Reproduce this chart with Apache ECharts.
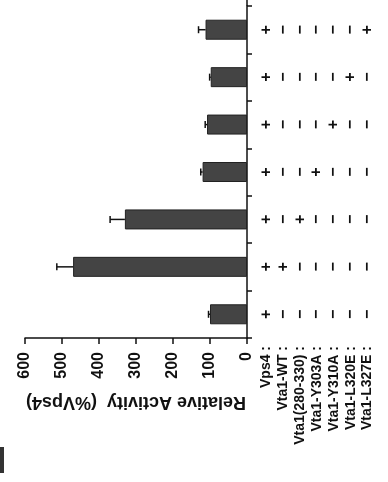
<!DOCTYPE html>
<html>
<head>
<meta charset="utf-8">
<script src="https://cdn.jsdelivr.net/npm/echarts@6/dist/echarts.min.js"></script>
<style>
html,body{margin:0;padding:0;background:#fff;}
#c{width:388px;height:482px;}
</style>
</head>
<body>
<div id="c"></div>
<script>
// Conditions (bottom to top in the picture)
const conditions = ['Vps4', 'Vps4+Vta1-WT', 'Vps4+Vta1(280-330)', 'Vps4+Vta1-Y303A', 'Vps4+Vta1-Y310A', 'Vps4+Vta1-L320E', 'Vps4+Vta1-L327E'];
// Relative activity (%Vps4) and error
const activity = [100, 470, 330, 120, 108, 98, 112];
const errors = [4, 44, 40, 5, 5, 3, 19];
// Table row labels (components)
const components = ['Vps4 :', 'Vta1-WT :', 'Vta1(280-330) :', 'Vta1-Y303A :', 'Vta1-Y310A :', 'Vta1-L320E :', 'Vta1-L327E :'];
// Presence table: one row per condition, one entry per component
const presence = [
  ['+', '−', '−', '−', '−', '−', '−'],
  ['+', '+', '−', '−', '−', '−', '−'],
  ['+', '−', '+', '−', '−', '−', '−'],
  ['+', '−', '−', '+', '−', '−', '−'],
  ['+', '−', '−', '−', '+', '−', '−'],
  ['+', '−', '−', '−', '−', '+', '−'],
  ['+', '−', '−', '−', '−', '−', '+']
];
const valueTicks = { min: 0, max: 600, interval: 100 };
const axisTitle = 'Relative Activity  (%Vps4)';

const chart = echarts.init(document.getElementById('c'), null, { renderer: 'canvas' });

const errData = activity.map((v, i) => [v, i, errors[i]]);
const tableData = [];
presence.forEach((row, r) => row.forEach((s, c) => tableData.push([c, r, s])));

const FONT = 'Liberation Sans, Arial, Helvetica, sans-serif';

chart.setOption({
  animation: false,
  backgroundColor: '#ffffff',
  grid: [
    { left: 25, right: 141, top: 6, bottom: 144 },
    { left: 258, right: 12, top: 6, bottom: 144 }
  ],
  xAxis: [
    {
      gridIndex: 0, type: 'value', inverse: true,
      min: valueTicks.min, max: valueTicks.max, interval: valueTicks.interval,
      position: 'bottom',
      axisLine: { show: true, onZero: false, lineStyle: { color: '#111', width: 1.5 } },
      axisTick: { show: true, inside: false, length: 6, lineStyle: { color: '#111', width: 1.5 } },
      splitLine: { show: false },
      axisLabel: { rotate: 90, margin: 14, fontSize: 16, fontWeight: 'bold', color: '#111', fontFamily: FONT },
      name: axisTitle, nameLocation: 'middle', nameGap: 55, nameRotate: 180,
      nameTextStyle: { fontSize: 18, fontWeight: 'bold', color: '#111', fontFamily: FONT }
    },
    {
      gridIndex: 1, type: 'category', data: components, position: 'bottom',
      axisLine: { show: false }, axisTick: { show: false }, splitLine: { show: false },
      axisLabel: { rotate: 90, margin: 8, fontSize: 14, fontWeight: 'bold', color: '#111', fontFamily: FONT, interval: 0 }
    }
  ],
  yAxis: [
    {
      gridIndex: 0, type: 'category', data: conditions, position: 'right',
      axisLine: { show: true, onZero: false, lineStyle: { color: '#111', width: 1.5 } },
      axisTick: { show: true, inside: false, length: 5, alignWithLabel: false, lineStyle: { color: '#111', width: 1.5 } },
      axisLabel: { show: false }, splitLine: { show: false }
    },
    {
      gridIndex: 1, type: 'category', data: conditions, show: false
    }
  ],
  series: [
    {
      type: 'bar', xAxisIndex: 0, yAxisIndex: 0, data: activity, barWidth: 20,
      itemStyle: { color: '#444444', borderColor: '#222222', borderWidth: 1 }
    },
    {
      type: 'custom', xAxisIndex: 0, yAxisIndex: 0, data: errData,
      encode: { x: 0, y: 1 },
      renderItem: function (params, api) {
        const v = api.value(0), c = api.value(1), e = api.value(2);
        const p0 = api.coord([v, c]);
        const p1 = api.coord([v + e, c]);
        const style = { stroke: '#111', lineWidth: 1.5 };
        return {
          type: 'group',
          children: [
            { type: 'line', shape: { x1: p0[0], y1: p0[1], x2: p1[0], y2: p1[1] }, style: style },
            { type: 'line', shape: { x1: p1[0], y1: p1[1] - 3.5, x2: p1[0], y2: p1[1] + 3.5 }, style: style }
          ]
        };
      },
      z: 3
    },
    {
      type: 'custom', xAxisIndex: 1, yAxisIndex: 1, data: tableData,
      encode: { x: 0, y: 1 },
      renderItem: function (params, api) {
        const p = api.coord([api.value(0), api.value(1)]);
        const s = tableData[params.dataIndex][2];
        return {
          type: 'text', x: p[0], y: p[1], rotation: Math.PI / 2,
          style: {
            text: s, fontSize: 16, fontWeight: 'bold', fontFamily: FONT,
            fill: '#111', align: 'center', verticalAlign: 'middle'
          }
        };
      }
    }
  ],
  graphic: [
    { type: 'line', shape: { x1: 247, y1: 0, x2: 247, y2: 6 }, style: { stroke: '#111', lineWidth: 1.5 } },
    { type: 'rect', shape: { x: 0, y: 447, width: 4, height: 26 }, style: { fill: '#333' } }
  ]
});
</script>
</body>
</html>
